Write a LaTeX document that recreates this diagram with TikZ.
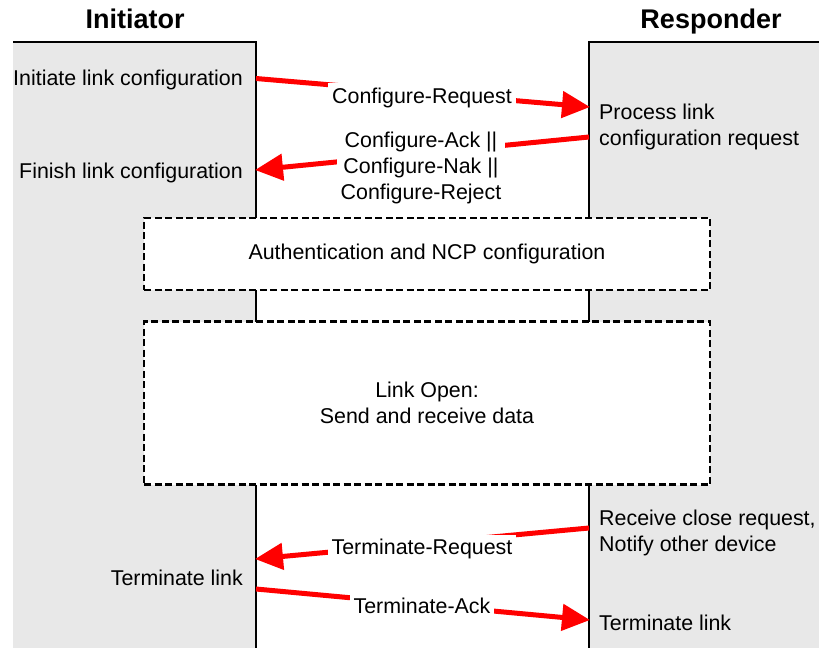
\documentclass[tikz,border=0pt]{standalone}
\usepackage{fontspec}
\setmainfont{Liberation Sans}
\usetikzlibrary{arrows.meta,positioning}
\newcommand{\bodyfont}{\fontsize{21.4}{26}\selectfont}
\newcommand{\headfont}{\fontsize{27}{30}\selectfont\bfseries}
\definecolor{PPPGrey}{HTML}{E8E8E8}
\definecolor{PPPRed}{HTML}{FF0000}

\begin{document}
\begin{tikzpicture}[
  x=1pt, y=-1pt,
  side/.style={font=\headfont, inner sep=0pt},
  state/.style={font=\bodyfont, inner sep=0pt},
  msg/.style={font=\bodyfont, fill=white, inner sep=4pt, align=center},
  phase/.style={draw, dash pattern=on 7pt off 3.5pt, line width=2.7pt, fill=white,
    minimum width=566pt, minimum height=72pt, font=\bodyfont, align=center},
  lane/.style={line width=2pt},
  arrow/.style={-{Triangle[length=28pt, width=26pt]}, PPPRed, line width=5pt}
]
\useasboundingbox (0,0) rectangle (819,648);

% the two sides
\fill[PPPGrey] (13,42) rectangle (256,648);
\fill[PPPGrey] (589,42) rectangle (819,648);
\draw[lane] (13,42) -- (256,42) -- (256,648);
\draw[lane] (819,42) -- (589,42) -- (589,648);

\node (ini) [side, anchor=base] at (135,28) {Initiator};
\node (resp) [side, anchor=base] at (711,28) {Responder};

% phases
\node (auth) [phase] at (427,254) {Authentication and NCP configuration};
\node (open) [phase, minimum height=163pt, below=29pt of auth] {Link Open:\\Send and receive data};

% states
\node (s1) [state, anchor=base east] at (243,85) {Initiate link configuration};
\node (s2) [state, anchor=base east] at (243,178) {Finish link configuration};
\node (s3) [state, anchor=base east] at (243,585) {Terminate link};
\node (r1) [state, anchor=west, align=left] at (599,127) {Process link\\configuration request};
\node (r2) [state, anchor=west, align=left] at (599,533) {Receive close request,\\Notify other device};
\node (r3) [state, anchor=base west] at (599,630) {Terminate link};

% message ends
\coordinate (a1) at (256,78.5);
\coordinate (b1) at (590,107);
\coordinate (a2) at (589,137);
\coordinate (b2) at (255,170);
\coordinate (a3) at (589,528);
\coordinate (b3) at (255,559);
\coordinate (a4) at (256,589);
\coordinate (b4) at (590,620);

\draw[arrow] (a1) -- (b1);
\draw[arrow] (a2) -- (b2);
\draw[arrow] (a3) -- (b3);
\draw[arrow] (a4) -- (b4);

% messages
\node (m1) [msg, anchor=base] at (422,103) {Configure-Request};
\node (m2) [msg] at (421,168) {Configure-Ack ||\\Configure-Nak ||\\Configure-Reject};
\node (m3) [msg, anchor=base] at (422,554) {Terminate-Request};
\node (m4) [msg, anchor=base] at (422,613) {Terminate-Ack};
\end{tikzpicture}
\end{document}
